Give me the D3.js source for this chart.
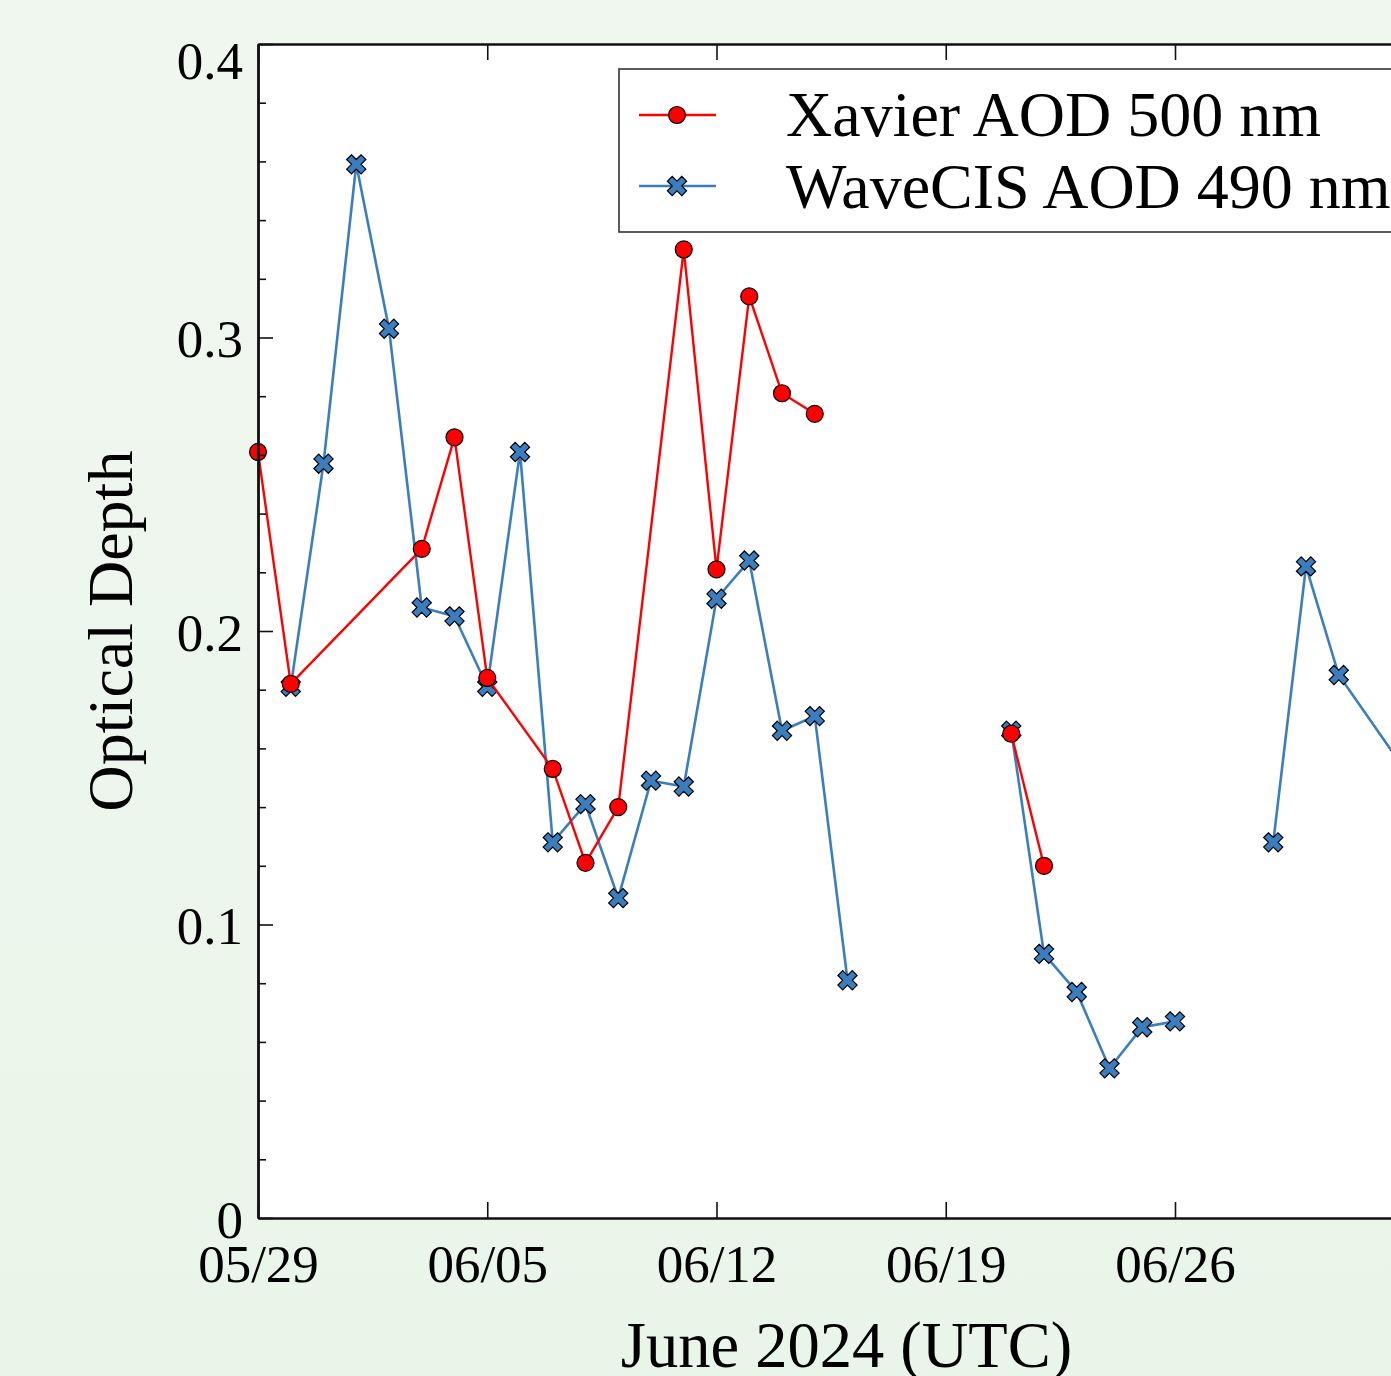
<!DOCTYPE html>
<html>
<head>
<meta charset="utf-8">
<script src="https://cdn.jsdelivr.net/npm/d3@7"></script>
<style>
  html, body { margin: 0; padding: 0; overflow: hidden; }
  svg { display: block; font-family: "Liberation Serif", "Times New Roman", serif; }
</style>
</head>
<body>
<svg id="chart" width="1391" height="1376"></svg>
<script>
// data, null = gap in the record
const xavierDates = ["2024-05-29", "2024-05-30", "2024-06-03", "2024-06-04", "2024-06-05",
  "2024-06-07", "2024-06-08", "2024-06-09", "2024-06-11", "2024-06-12", "2024-06-13",
  "2024-06-14", "2024-06-15", "2024-06-18", "2024-06-21", "2024-06-22"];
const xavierAod = [0.261, 0.182, 0.228, 0.266, 0.184,
  0.153, 0.121, 0.140, 0.330, 0.221, 0.314,
  0.281, 0.274, null, 0.165, 0.120];

const wavecisDates = ["2024-05-30", "2024-05-31", "2024-06-01", "2024-06-02", "2024-06-03",
  "2024-06-04", "2024-06-05", "2024-06-06", "2024-06-07", "2024-06-08", "2024-06-09",
  "2024-06-10", "2024-06-11", "2024-06-12", "2024-06-13", "2024-06-14", "2024-06-15",
  "2024-06-16", "2024-06-19", "2024-06-21", "2024-06-22", "2024-06-23", "2024-06-24",
  "2024-06-25", "2024-06-26", "2024-06-28", "2024-06-29", "2024-06-30", "2024-07-01",
  "2024-07-03"];
const wavecisAod = [0.181, 0.257, 0.359, 0.303, 0.208,
  0.205, 0.181, 0.261, 0.128, 0.141, 0.109,
  0.149, 0.147, 0.211, 0.224, 0.166, 0.171,
  0.081, null, 0.166, 0.090, 0.077, 0.051,
  0.065, 0.067, null, 0.128, 0.222, 0.185,
  0.153];

const xTickDates = ["2024-05-29", "2024-06-05", "2024-06-12", "2024-06-19", "2024-06-26"];
const xTickLabels = ["05/29", "06/05", "06/12", "06/19", "06/26"];
const yMajorTicks = [0, 0.1, 0.2, 0.3, 0.4];
const yTickLabels = ["0", "0.1", "0.2", "0.3", "0.4"];

const seriesNames = ["Xavier AOD 500 nm", "WaveCIS AOD 490 nm"];

const parse = d3.utcParse("%Y-%m-%d");

const svg = d3.select("#chart");

const plotLeft = 258, plotTop = 44, plotBottom = 1218, plotRight = 1437;

let defs = svg.append("defs");
let grad = defs.append("linearGradient")
  .attr("id", "bg").attr("x1", 0).attr("y1", 0).attr("x2", 0).attr("y2", 1);
grad.append("stop").attr("offset", "0%").attr("stop-color", "#f0f7ef");
grad.append("stop").attr("offset", "100%").attr("stop-color", "#eaf5e9");

svg.append("rect").attr("width", 1391).attr("height", 1376).attr("fill", "url(#bg)");

let x = d3.scaleUtc()
  .domain([parse("2024-05-29"), parse("2024-07-04")])
  .range([plotLeft, plotRight]);

let y = d3.scaleLinear()
  .domain([0, 0.4])
  .range([plotBottom, plotTop]);

// plot area
svg.append("rect")
  .attr("x", plotLeft).attr("y", plotTop)
  .attr("width", plotRight - plotLeft).attr("height", plotBottom - plotTop)
  .attr("fill", "white");

function makeSeries(dates, values) {
  return dates.map((d, i) => ({ date: parse(d), v: values[i] }));
}

let xavier = makeSeries(xavierDates, xavierAod);
let wavecis = makeSeries(wavecisDates, wavecisAod);

let line = d3.line()
  .defined(d => d.v !== null)
  .x(d => x(d.date))
  .y(d => y(d.v));

const blue = "#3b7ebf";
const red = "#ff0000";

// thick "x" marker: a plus rotated by 45 degrees
let crossPath = d3.symbol(d3.symbolCross, 230)();

function drawCross(g) {
  g.append("path")
    .attr("d", crossPath)
    .attr("transform", d => `translate(${d[0]},${d[1]}) rotate(45)`)
    .attr("fill", blue)
    .attr("stroke", "black")
    .attr("stroke-width", 1.2);
}

function drawDot(g) {
  g.append("circle")
    .attr("cx", d => d[0]).attr("cy", d => d[1])
    .attr("r", 8.5)
    .attr("fill", red)
    .attr("stroke", "black")
    .attr("stroke-width", 1.2);
}

// WaveCIS first so that Xavier dots sit on top
let gBlue = svg.append("g");
gBlue.append("path")
  .attr("d", line(wavecis))
  .attr("fill", "none")
  .attr("stroke", blue)
  .attr("stroke-width", 2.6);
gBlue.selectAll("g.pt")
  .data(wavecis.filter(d => d.v !== null).map(d => [x(d.date), y(d.v)]))
  .join("g").attr("class", "pt")
  .call(drawCross);

let gRed = svg.append("g");
gRed.append("path")
  .attr("d", line(xavier))
  .attr("fill", "none")
  .attr("stroke", red)
  .attr("stroke-width", 2.4);
gRed.selectAll("g.pt")
  .data(xavier.filter(d => d.v !== null).map(d => [x(d.date), y(d.v)]))
  .join("g").attr("class", "pt")
  .call(drawDot);

// axes
let xTicks = xTickDates.map(parse);

let bottomAxis = d3.axisBottom(x)
  .tickValues(xTicks)
  .tickFormat((d, i) => xTickLabels[i])
  .tickSizeInner(-16)
  .tickSizeOuter(0)
  .tickPadding(26);

let topAxis = d3.axisTop(x)
  .tickValues(xTicks)
  .tickFormat("")
  .tickSizeInner(-16)
  .tickSizeOuter(0);

let leftAxis = d3.axisLeft(y)
  .tickValues(yMajorTicks)
  .tickFormat((d, i) => yTickLabels[i])
  .tickSizeInner(-15)
  .tickSizeOuter(0)
  .tickPadding(15);

let minorTicks = d3.range(1, 20).map(i => i * 0.02).filter(v => Math.round(v * 100) % 10 !== 0);

let leftMinor = d3.axisLeft(y)
  .tickValues(minorTicks)
  .tickFormat("")
  .tickSizeInner(-8)
  .tickSizeOuter(0);

let gx = svg.append("g").attr("transform", `translate(0,${plotBottom})`).call(bottomAxis);
let gxt = svg.append("g").attr("transform", `translate(0,${plotTop})`).call(topAxis);
let gy = svg.append("g").attr("transform", `translate(${plotLeft},0)`).call(leftAxis);
let gym = svg.append("g").attr("transform", `translate(${plotLeft},0)`).call(leftMinor);

[gx, gxt, gy, gym].forEach(g => {
  g.select(".domain").attr("stroke", "#111").attr("stroke-width", 2.4);
  g.selectAll(".tick line").attr("stroke", "#111").attr("stroke-width", 1.6);
  g.selectAll("text")
    .attr("fill", "black")
    .style("font-family", "'Liberation Serif', serif")
    .style("font-size", "53px");
});

// y labels centred on the tick, the top one pushed down to stay inside the frame
gy.selectAll(".tick text")
  .attr("dy", null)
  .attr("y", d => Math.max(19, plotTop + 34 - y(d)));

// axis titles
svg.append("text")
  .attr("x", (plotLeft + plotRight) / 2 - 1)
  .attr("y", 1367)
  .attr("text-anchor", "middle")
  .style("font-size", "64.5px")
  .text("June 2024 (UTC)");

svg.append("text")
  .attr("transform", `translate(132,${(plotTop + plotBottom) / 2}) rotate(-90)`)
  .attr("text-anchor", "middle")
  .style("font-size", "64px")
  .text("Optical Depth");

// legend
let legend = svg.append("g").attr("transform", "translate(619,69)");
legend.append("rect")
  .attr("width", 900).attr("height", 163)
  .attr("fill", "white")
  .attr("stroke", "#333")
  .attr("stroke-width", 1.6);

let legendRows = [
  { name: seriesNames[0], color: red, y: 46, draw: drawDot, base: 67 },
  { name: seriesNames[1], color: blue, y: 117, draw: drawCross, base: 139 }
];

legendRows.forEach(r => {
  legend.append("line")
    .attr("x1", 20).attr("x2", 97)
    .attr("y1", r.y).attr("y2", r.y)
    .attr("stroke", r.color)
    .attr("stroke-width", 2.5);
  legend.selectAll(null).data([[58, r.y]]).join("g").call(r.draw);
  legend.append("text")
    .attr("x", 167).attr("y", r.base)
    .style("font-size", "64px")
    .text(r.name);
});
</script>
</body>
</html>
